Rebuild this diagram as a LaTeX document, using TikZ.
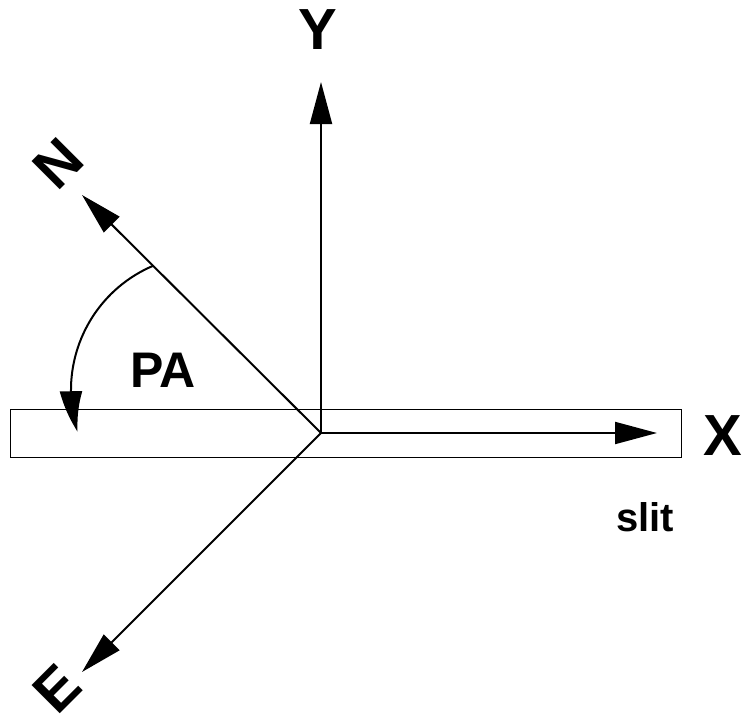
\documentclass[tikz,border=0pt]{standalone}
\usepackage{fontspec}
\setmainfont{Liberation Sans}
\usetikzlibrary{arrows.meta,bending}
\begin{document}
\begin{tikzpicture}[x=1pt,y=-1pt,
  axis/.style={line width=2pt,-{Triangle[length=42pt,width=22pt]}},
  biglabel/.style={font=\fontsize{58}{60}\selectfont\bfseries,inner sep=0pt},
  midlabel/.style={font=\fontsize{50}{52}\selectfont\bfseries,inner sep=0pt},
  smalllabel/.style={font=\fontsize{40}{42}\selectfont\bfseries,inner sep=0pt}]
\useasboundingbox (0,0) rectangle (742,720);
\draw[line width=1pt] (10,409) rectangle (681,457);
\coordinate (O) at (321,433);
\coordinate (ytip) at (321,82);
\coordinate (xtip) at (657,433);
\coordinate (ntip) at (82,195);
\coordinate (etip) at (82,672);
\coordinate (arcc) at (206,390);
\draw[axis] (O) -- (ytip);
\draw[axis] (O) -- (xtip);
\draw[axis] (O) -- (ntip);
\draw[axis] (O) -- (etip);
\draw[line width=2pt,-{Triangle[length=42pt,width=22pt,bend]}] (arcc) ++(247:135) arc[start angle=247,end angle=162,radius=135];
\node[biglabel] (Y) at (318,30) {Y};
\node[biglabel] (X) at (723,436) {X};
\node[biglabel,rotate=45] (N) at (58,164) {N};
\node[biglabel,rotate=45] (E) at (57,689) {E};
\node[midlabel] (PA) at (163,370) {PA};
\node[smalllabel] (slit) at (645,517) {slit};
\end{tikzpicture}
\end{document}
